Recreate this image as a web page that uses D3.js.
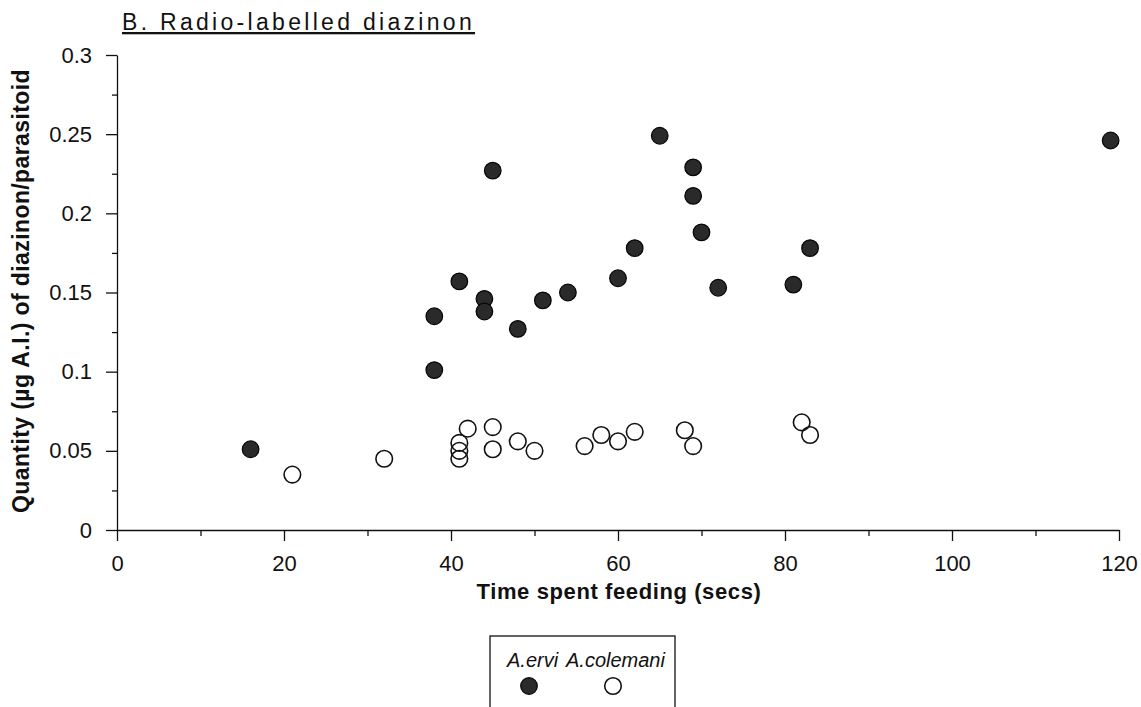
<!DOCTYPE html>
<html>
<head>
<meta charset="utf-8">
<script src="https://cdn.jsdelivr.net/npm/d3@7"></script>
<style>
  body { margin: 0; background: #fff; }
  svg { font-family: "Liberation Sans", Arial, sans-serif; }
</style>
</head>
<body>
<svg width="1141" height="707"></svg>
<script>
// A. ervi (filled) : time spent feeding (secs), quantity (ug a.i.)
var erviTime = [16, 38, 38, 41, 44, 44, 45, 48, 51, 54, 60, 62, 65, 69, 69, 70, 72, 81, 83, 119];
var erviQty  = [0.051, 0.101, 0.135, 0.157, 0.146, 0.138, 0.227, 0.127, 0.145, 0.150,
                0.159, 0.178, 0.249, 0.229, 0.211, 0.188, 0.153, 0.155, 0.178, 0.246];

// A. colemani (open)
var colemaniTime = [21, 32, 41, 41, 41, 42, 45, 45, 48, 50, 56, 58, 60, 62, 68, 69, 82, 83];
var colemaniQty  = [0.035, 0.045, 0.045, 0.050, 0.055, 0.064, 0.065, 0.051, 0.056, 0.050,
                    0.053, 0.060, 0.056, 0.062, 0.063, 0.053, 0.068, 0.060];

var xTicks = [0, 20, 40, 60, 80, 100, 120];
var xMinor = [10, 30, 50, 70, 90, 110];
var yTicks = [0, 0.05, 0.1, 0.15, 0.2, 0.25, 0.3];
var yTickLabels = ['0', '0.05', '0.1', '0.15', '0.2', '0.25', '0.3'];
var yMinor = [0.025, 0.075, 0.125, 0.175, 0.225, 0.275];

var svg = d3.select('svg');

var x = d3.scaleLinear().domain([0, 120]).range([117, 1119]);
var y = d3.scaleLinear().domain([0, 0.3]).range([530, 55]);

// x axis
svg.append('g')
  .attr('transform', 'translate(0,530)')
  .call(d3.axisBottom(x).tickValues(xMinor).tickSize(6).tickFormat(''))
  .call(function(g) { g.select('.domain').remove(); });

svg.append('g')
  .attr('class', 'xaxis')
  .attr('transform', 'translate(0,530)')
  .call(d3.axisBottom(x).tickValues(xTicks).tickSize(11).tickSizeOuter(0).tickPadding(14));

// y axis
svg.append('g')
  .attr('transform', 'translate(117,0)')
  .call(d3.axisLeft(y).tickValues(yMinor).tickSize(5).tickFormat(''))
  .call(function(g) { g.select('.domain').remove(); });

svg.append('g')
  .attr('class', 'yaxis')
  .attr('transform', 'translate(117,0)')
  .call(d3.axisLeft(y).tickValues(yTicks).tickSize(11).tickSizeOuter(0).tickPadding(14)
    .tickFormat(function(d, i) { return yTickLabels[i]; }));

svg.selectAll('.tick line, .domain').attr('stroke', '#111').attr('stroke-width', 1.3);
svg.selectAll('.tick text')
  .attr('fill', '#111')
  .style('font-size', '22px')
  .style('font-family', '"Liberation Sans", Arial, sans-serif');

// titles
svg.append('text')
  .attr('x', 122)
  .attr('y', 30)
  .style('font-size', '23px')
  .style('letter-spacing', '3.3px')
  .style('text-decoration', 'underline')
  .attr('fill', '#111')
  .text('B. Radio-labelled diazinon');

svg.append('text')
  .attr('x', 619)
  .attr('y', 599)
  .attr('text-anchor', 'middle')
  .style('font-size', '22px')
  .style('font-weight', 'bold')
  .style('letter-spacing', '0.6px')
  .attr('fill', '#111')
  .text('Time spent feeding (secs)');

svg.append('text')
  .attr('transform', 'translate(29,291) rotate(-90)')
  .attr('text-anchor', 'middle')
  .style('font-size', '23px')
  .style('font-weight', 'bold')
  .style('letter-spacing', '0.4px')
  .attr('fill', '#111')
  .text('Quantity (\u00b5g A.I.) of diazinon/parasitoid');

// points
var colemani = colemaniTime.map(function(t, i) { return [t, colemaniQty[i]]; });
var ervi = erviTime.map(function(t, i) { return [t, erviQty[i]]; });

svg.append('g')
  .selectAll('circle')
  .data(colemani)
  .enter().append('circle')
  .attr('r', 8.3)
  .attr('cx', function(d) { return x(d[0]); })
  .attr('cy', function(d) { return y(d[1]); })
  .attr('fill', 'none')
  .attr('stroke', '#111')
  .attr('stroke-width', 1.6);

svg.append('g')
  .selectAll('circle')
  .data(ervi)
  .enter().append('circle')
  .attr('r', 8.3)
  .attr('cx', function(d) { return x(d[0]); })
  .attr('cy', function(d) { return y(d[1]); })
  .attr('fill', '#2a2a2a')
  .attr('stroke', '#050505')
  .attr('stroke-width', 1.2);

// legend
var legend = svg.append('g').attr('transform', 'translate(490,636)');

legend.append('rect')
  .attr('width', 185)
  .attr('height', 90)
  .attr('fill', '#fff')
  .attr('stroke', '#111')
  .attr('stroke-width', 1.3);

legend.append('text')
  .attr('x', 17)
  .attr('y', 31)
  .style('font-size', '20px')
  .style('font-style', 'italic')
  .attr('fill', '#111')
  .text('A.ervi');

legend.append('text')
  .attr('x', 76)
  .attr('y', 31)
  .style('font-size', '20px')
  .style('font-style', 'italic')
  .attr('fill', '#111')
  .text('A.colemani');

legend.append('circle')
  .attr('cx', 39).attr('cy', 50).attr('r', 8.3)
  .attr('fill', '#2a2a2a').attr('stroke', '#050505').attr('stroke-width', 1.2);

legend.append('circle')
  .attr('cx', 123).attr('cy', 50).attr('r', 8.3)
  .attr('fill', 'none').attr('stroke', '#111').attr('stroke-width', 1.6);
</script>
</body>
</html>
